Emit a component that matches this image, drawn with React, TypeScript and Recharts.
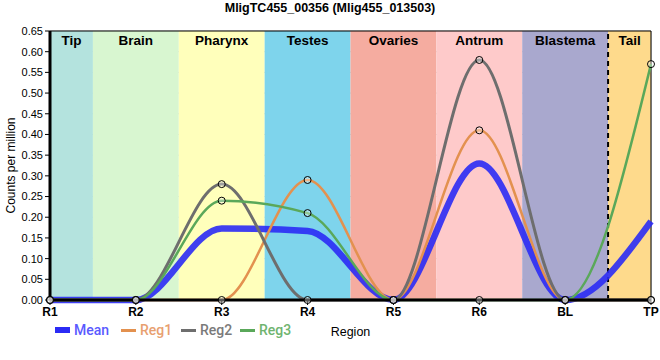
import React from 'react';
import { LineChart, Line, XAxis, YAxis, CartesianGrid, ReferenceArea, ReferenceLine } from 'recharts';

const regions = ['R1', 'R2', 'R3', 'R4', 'R5', 'R6', 'BL', 'TP'];
const reg1 = [0, 0, 0, 0.29, 0, 0.41, 0, 0];
const reg2 = [0, 0, 0.28, 0, 0, 0.58, 0, 0];
const reg3 = [0, 0, 0.24, 0.21, 0, 0, 0, 0.57];
const mean = [0, 0, 0.173, 0.167, 0, 0.33, 0, 0.19];

const yTicks = [0, 0.05, 0.1, 0.15, 0.2, 0.25, 0.3, 0.35, 0.4, 0.45, 0.5, 0.55, 0.6, 0.65];

const bandNames = ['Tip', 'Brain', 'Pharynx', 'Testes', 'Ovaries', 'Antrum', 'Blastema', 'Tail'];
const bandStart = [0, 0.5, 1.5, 2.5, 3.5, 4.5, 5.5, 6.5];
const bandEnd = [0.5, 1.5, 2.5, 3.5, 4.5, 5.5, 6.5, 7];
const bandColors = ['#b4e3de', '#d8f6d0', '#ffffbb', '#7ed4ec', '#f5aca0', '#fecaca', '#a9a8ce', '#feda8c'];

const series = [
  { key: 'mean', name: 'Mean', color: '#2b2bf5', legend: '#5a5aff', width: 6.5 },
  { key: 'reg1', name: 'Reg1', color: '#e3914f', legend: '#e8a070', width: 2.5 },
  { key: 'reg2', name: 'Reg2', color: '#6e6e6e', legend: '#7a7a7a', width: 3 },
  { key: 'reg3', name: 'Reg3', color: '#5aa85a', legend: '#6fb46f', width: 2.5 },
];
const legendLeft = [55, 121, 181, 240];

const data = regions.map((r, i) => ({
  x: i,
  mean: mean[i],
  reg1: reg1[i],
  reg2: reg2[i],
  reg3: reg3[i],
}));

const font = 'Liberation Sans, Arial, sans-serif';

const YLabel = (props: any) => {
  const vb = props.viewBox || {};
  const cy = vb.y + vb.height / 2;
  return (
    <text x={11} y={cy} transform={`rotate(-90 11 ${cy})`} textAnchor="middle" dominantBaseline="central"
      fontSize={12} fontFamily={font} fill="#000">
      Counts per million
    </text>
  );
};

const dot = { r: 3.5, fill: 'rgba(255,255,255,0.35)', stroke: '#000', strokeWidth: 1 };

export default function App() {
  return (
    <div style={{ position: 'absolute', left: 0, top: 0, width: 660, height: 360, background: '#fff', fontFamily: font }}>
      <div style={{ position: 'absolute', top: 1, left: 0, width: 660, textAlign: 'center', fontSize: 12.5, fontWeight: 'bold' }}>
        MligTC455_00356 (Mlig455_013503)
      </div>
      <LineChart width={660} height={360} data={data} margin={{ top: 31, right: 9, bottom: 0, left: 0 }}>
        {bandNames.map((b, i) => (
          <ReferenceArea key={b} x1={bandStart[i]} x2={bandEnd[i]} y1={0} y2={0.65} fill={bandColors[i]} fillOpacity={1}
            stroke="none" ifOverflow="visible"
            label={{ value: b, position: 'insideTop', offset: 4, fontSize: 13.5, fontWeight: 'bold', fill: '#000', fontFamily: font }} />
        ))}
        <CartesianGrid stroke="#c8c8c8" strokeWidth={1} />
        <XAxis dataKey="x" type="number" domain={[0, 7]} ticks={regions.map((_, i) => i)}
          tickFormatter={(v: number) => regions[v]} height={60}
          tick={{ fontSize: 12, fontWeight: 'bold', fill: '#000', fontFamily: font }}
          axisLine={{ stroke: '#000', strokeWidth: 3 }} tickLine={{ stroke: '#000' }} tickSize={5}
          label={{ value: 'Region', position: 'insideBottom', offset: 24, fontSize: 12.5, fill: '#000', fontFamily: font }} />
        <YAxis type="number" domain={[0, 0.65]} ticks={yTicks} width={50} interval={0}
          tickFormatter={(v: number) => v.toFixed(2)}
          tick={{ fontSize: 11, fill: '#000', fontFamily: font }}
          axisLine={{ stroke: '#000', strokeWidth: 3 }} tickLine={{ stroke: '#000' }} tickSize={5}
          label={<YLabel />} />
        <ReferenceLine y={0.65} stroke="#000" strokeWidth={1} />
        <ReferenceLine x={7} stroke="#000" strokeWidth={1} />
        <ReferenceLine x={6.5} stroke="#000" strokeWidth={2} strokeDasharray="5 4" />
        {series.map((s) => (
          <Line key={s.key} type="monotone" dataKey={s.key} stroke={s.color} strokeWidth={s.width}
            strokeOpacity={s.key === 'mean' ? 0.9 : 1}
            dot={s.key === 'mean' ? false : dot} activeDot={false} isAnimationActive={false} />
        ))}
      </LineChart>
      {series.map((s, i) => (
        <div key={s.key} style={{ position: 'absolute', left: legendLeft[i], top: 322, display: 'flex', alignItems: 'center', fontSize: 14, fontWeight: 500, fontFamily: 'Roboto, sans-serif' }}>
          <div style={{ width: 15, height: s.key === 'mean' ? 6 : 3, background: s.color, marginRight: 4 }} />
          <span style={{ color: s.legend }}>{s.name}</span>
        </div>
      ))}
    </div>
  );
}
